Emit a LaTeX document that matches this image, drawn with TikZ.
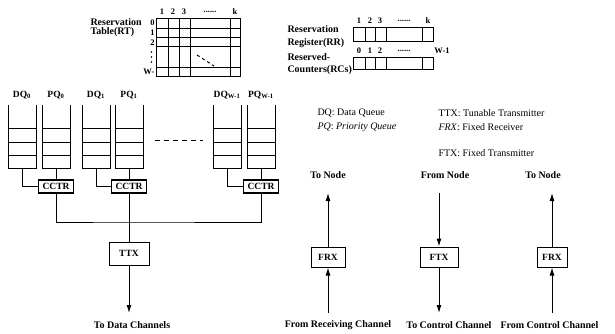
\documentclass[tikz,border=0pt]{standalone}
\usepackage{fontspec}
\setmainfont{Liberation Serif}
\usetikzlibrary{arrows.meta}

\tikzset{
  txt/.style={font=\fontsize{10}{10}\selectfont\bfseries, inner sep=0pt},
  small/.style={font=\fontsize{8.5}{8.5}\selectfont\bfseries, inner sep=0pt},
  lgd/.style={font=\fontsize{10}{10}\selectfont, inner sep=0pt, anchor=west},
  unitbox/.style={draw, line width=1pt, minimum width=34pt, minimum height=20pt, inner sep=0pt,
    font=\fontsize{9.5}{9.5}\selectfont\bfseries},
  ctrbox/.style={draw, line width=1.8pt, minimum width=35pt, minimum height=13pt, inner sep=0pt,
    font=\fontsize{9.5}{9.5}\selectfont\bfseries},
  sig/.style={line width=1pt, -{Latex[length=8pt,width=5pt]}},
}

\begin{document}
\begin{tikzpicture}[x=1pt,y=-1pt,line width=1pt]
\useasboundingbox (0,0) rectangle (615,334);

% reservation table
\draw (156,19) rectangle (240,77);
\foreach \x in {168,179,190,230} \draw (\x,19) -- (\x,77);
\foreach \y in {29,38,47,68} \draw (156,\y) -- (240,\y);
\draw[dashed] (197,55) -- (214,66);
\foreach \x/\t in {162/1,173/2,184/3,210/{......},235/k} \node[small] at (\x,12) {\t};
\foreach \y/\t in {23/0,33/1,43/2} \node[small,anchor=east] at (155,\y) {\t};
\foreach \y in {52,57,62} \fill (151.5,\y) circle (0.8pt);
\node[small,anchor=east] at (155,72) {W-};
\node[txt,align=left,anchor=west,font=\fontsize{10}{9.5}\selectfont\bfseries] (rtlbl) at (90,27.5) {Reservation\\Table(RT)};

% reservation register and counters
\draw (353,28) rectangle (433,42);
\foreach \x in {365,375,386,422} \draw (\x,28) -- (\x,42);
\draw (353,58) rectangle (433,70);
\foreach \x in {365,375,386,422} \draw (\x,58) -- (\x,70);
\foreach \x/\t in {359/1,370/2,380/3,404/{......},428/k} \node[small] at (\x,21) {\t};
\foreach \x/\t in {359/0,370/1,380/2,404/{......},442/W-1} \node[small] at (\x,51) {\t};
\node[txt,align=left,anchor=west,font=\fontsize{10}{13}\selectfont\bfseries] (rrlbl) at (287,36.5) {Reservation\\Register(RR)};
\node[txt,align=left,anchor=west,font=\fontsize{10}{12}\selectfont\bfseries] (rclbl) at (287,64) {Reserved-\\Counters(RCs)};

% queues
\foreach \n/\l/\t in {dqa/8/DQ\textsubscript{0},pqa/42/PQ\textsubscript{0},dqb/82/DQ\textsubscript{1},
    pqb/115/PQ\textsubscript{1},dqw/213/DQ\textsubscript{W-1},pqw/247/PQ\textsubscript{W-1}} {
  \draw (\l,105) -- (\l,168) -- ++(28,0) -- ++(0,-63);
  \foreach \y in {128,142,155} \draw (\l,\y) -- ++(28,0);
  \coordinate (\n) at (\l+14,168);
  \node[small,font=\fontsize{9.5}{9.5}\selectfont\bfseries] at (\l+14,95) {\t};
}
\draw[dash pattern=on 5pt off 4pt] (155,140) -- (203,140);

\node[ctrbox] (ca) at (56,186.5) {CCTR};
\node[ctrbox] (cb) at (129,186.5) {CCTR};
\node[ctrbox] (cw) at (261,186.5) {CCTR};
\draw (dqa) |- (ca.west);
\draw (dqb) |- (cb.west);
\draw (dqw) |- (cw.west);
\draw (pqa) -- (ca.north);
\draw (pqb) -- (cb.north);
\draw (pqw) -- (cw.north);

\coordinate (bus) at (129,222);
\draw (ca.south) |- (bus) -| (cw.south);
\node[unitbox,minimum width=40pt,minimum height=23pt] (ttx) at (129,253.5) {TTX};
\draw (cb.south) -- (ttx.north);
\coordinate (dch) at (129,313);
\draw[sig] (ttx.south) -- (dch);
\node[txt] (dchlbl) at (132,325) {To Data Channels};

% legend
\node[lgd] (lgdq) at (317,113) {DQ: Data Queue};
\node[lgd] (lgpq) at (317,127) {\textit{PQ}: \textit{Priority Queue}};
\node[lgd] (lgttx) at (438,113) {TTX: Tunable Transmitter};
\node[lgd] (lgfrx) at (438,127) {\textit{FRX}: Fixed Receiver};
\node[lgd] (lgftx) at (438,153) {FTX: Fixed Transmitter};

% receiver / transmitter units
\node[unitbox] (frxa) at (328,257) {FRX};
\node[txt] (tnodea) at (328,175) {To Node};
\coordinate (frxaup) at (328,193);
\coordinate (frxain) at (328,313);
\draw[sig] (frxa.north) -- (frxaup);
\draw[sig] (frxain) -- (frxa.south);
\node[txt] (rchlbl) at (338,325) {From Receiving Channel};

\node[unitbox,minimum width=38pt] (ftx) at (439,257) {FTX};
\node[txt] (fnode) at (445,175) {From Node};
\coordinate (ftxin) at (439,193);
\coordinate (ftxout) at (439,313);
\draw[sig] (ftxin) -- (ftx.north);
\draw[sig] (ftx.south) -- (ftxout);
\node[txt] (cchlbl) at (449,325) {To Control Channel};

\node[unitbox,minimum width=30pt] (frxb) at (552,257) {FRX};
\node[txt] (tnodeb) at (543,175) {To Node};
\coordinate (frxbup) at (552,193);
\coordinate (frxbin) at (552,313);
\draw[sig] (frxb.north) -- (frxbup);
\draw[sig] (frxbin) -- (frxb.south);
\node[txt,anchor=west] (fcchlbl) at (500,325) {From Control Channel};
\end{tikzpicture}
\end{document}
